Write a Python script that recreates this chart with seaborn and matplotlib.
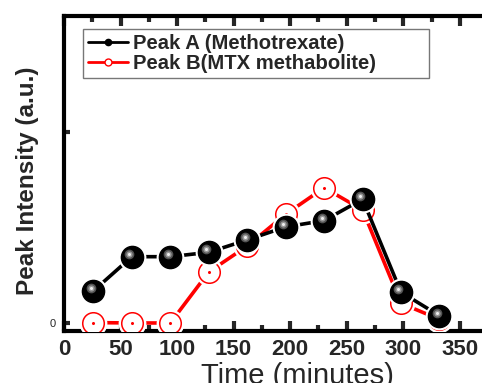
import matplotlib
matplotlib.use("Agg")
import matplotlib.pyplot as plt
from matplotlib.lines import Line2D
from matplotlib.transforms import ScaledTranslation
from matplotlib.ticker import MultipleLocator, FixedLocator
import seaborn as sns
import pandas as pd

time_min = [26, 60, 94, 128, 162, 196, 230, 264, 298, 332]
peak_a = [0.168, 0.347, 0.347, 0.370, 0.435, 0.503, 0.536, 0.648, 0.161, 0.038]
peak_b = [0.002, 0.0, 0.0, 0.267, 0.403, 0.569, 0.708, 0.592, 0.103, 0.019]
x_ticks = [0, 50, 100, 150, 200, 250, 300, 350]
label_a = "Peak A (Methotrexate)"
label_b = "Peak B(MTX methabolite)"

sns.set_style("ticks")
plt.rcParams["font.family"] = ["Liberation Sans", "DejaVu Sans"]

fig = plt.figure(figsize=(4.82, 3.83), dpi=100)
ax = fig.add_axes([64 / 482, 52 / 383, 452.4 / 482, 315 / 383])

df = pd.DataFrame({"t": time_min, "a": peak_a, "b": peak_b})

# Peak B (red)
sns.lineplot(data=df, x="t", y="b", ax=ax, color="red", lw=2.6, sort=False,
             estimator=None, zorder=2)
ax.plot(time_min, peak_b, ls="none", marker="o", ms=20, mfc="white", mec="none", zorder=3)
ax.plot(time_min, peak_b, ls="none", marker="o", ms=15.5, mfc="white", mec="red",
        mew=1.1, zorder=4)
ax.plot(time_min, peak_b, ls="none", marker="o", ms=1.2, mfc="red", mec="red", zorder=4)

# Peak A (black spheres)
sns.lineplot(data=df, x="t", y="a", ax=ax, color="black", lw=2.6, sort=False,
             estimator=None, zorder=5)
ax.plot(time_min, peak_a, ls="none", marker="o", ms=20, mfc="white", mec="none", zorder=6)
ax.plot(time_min, peak_a, ls="none", marker="o", ms=16, mfc="black", mec="black", zorder=7)
off = ax.transData + ScaledTranslation(-2.6 / 100, 2.8 / 100, fig.dpi_scale_trans)
ax.plot(time_min, peak_a, ls="none", marker="o", ms=7, mfc="#555555", mec="none",
        transform=off, zorder=8)
ax.plot(time_min, peak_a, ls="none", marker="o", ms=4.5, mfc="#999999", mec="none",
        transform=off, zorder=9)
ax.plot(time_min, peak_a, ls="none", marker="o", ms=2.2, mfc="#eeeeee", mec="none",
        transform=off, zorder=10)

ax.set_xlim(0, 400)
ax.set_ylim(-0.042, 1.607)

ax.xaxis.set_major_locator(FixedLocator(x_ticks))
ax.xaxis.set_minor_locator(MultipleLocator(25))
ax.yaxis.set_major_locator(FixedLocator([0, 1]))
ax.set_yticklabels(["0", ""])

ax.tick_params(axis="x", which="major", direction="in", top=True, bottom=True,
               length=7, width=3, labelsize=16, pad=6)
ax.tick_params(axis="x", which="minor", direction="in", top=True, bottom=True,
               length=4.5, width=3)
ax.tick_params(axis="y", which="major", direction="in", left=True, right=False,
               length=4, width=3, labelsize=8, pad=6)
for lbl in ax.get_xticklabels():
    lbl.set_fontweight("bold")

for s in ax.spines.values():
    s.set_linewidth(3)
    s.set_color("black")

ax.set_xlabel("Time (minutes)", fontsize=21)
ax.xaxis.set_label_coords(0.517, -0.097)
ax.set_ylabel("Peak Intensity (a.u.)", fontsize=17.5, fontweight="bold")
ax.yaxis.set_label_coords(-0.055, 0.478)

handles = [
    Line2D([], [], color="black", lw=2, marker="o", ms=4.5, mfc="black", mec="black"),
    Line2D([], [], color="red", lw=2, marker="o", ms=5, mfc="white", mec="red", mew=1),
]
leg = ax.legend(handles, [label_a, label_b], loc="upper left",
                bbox_to_anchor=(0.042, 0.959, 0.765, 0.0), mode="expand",
                borderaxespad=0,
                prop={"weight": "bold", "size": 14.6}, handlelength=1.95,
                handletextpad=0.25, labelspacing=0.05, borderpad=0.25,
                frameon=True, fancybox=False, shadow=False)
leg.get_frame().set_edgecolor("#555555")
leg.get_frame().set_linewidth(1)
leg.set_zorder(20)

fig.savefig("out.png", dpi=100)
